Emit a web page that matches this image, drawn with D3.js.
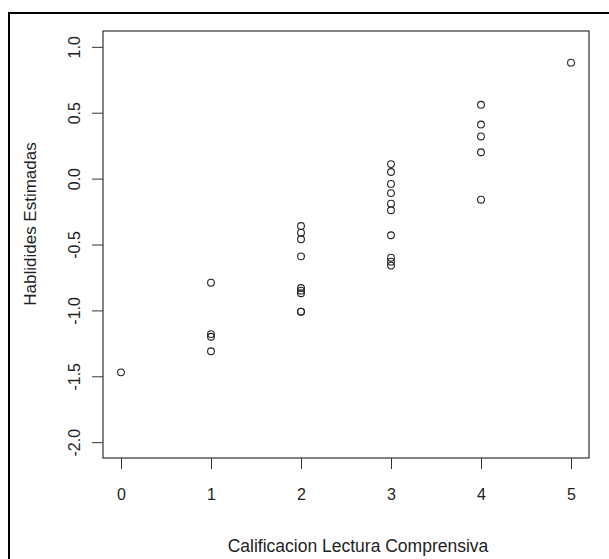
<!DOCTYPE html>
<html>
<head>
<meta charset="utf-8">
<script src="https://cdn.jsdelivr.net/npm/d3@7"></script>
<style>
  body { margin: 0; background: #fff; }
  text { font-family: "Liberation Sans", Arial, sans-serif; fill: #222; }
</style>
</head>
<body>
<svg id="chart" width="609" height="559"></svg>
<script>
// reading score (0..5) and the estimated ability for each student
var scores = [0, 1, 2, 3, 4, 5]
var score0 = [-1.47]
var score1 = [-0.79, -1.18, -1.20, -1.31]
var score2 = [-0.36, -0.41, -0.46, -0.59, -0.83, -0.85, -0.87, -1.01, -1.01]
var score3 = [0.11, 0.05, -0.04, -0.11, -0.19, -0.24, -0.43, -0.60, -0.63, -0.66]
var score4 = [0.56, 0.41, 0.32, 0.20, -0.16]
var score5 = [0.88]
var yTicks = [-2.0, -1.5, -1.0, -0.5, 0.0, 0.5, 1.0]
var xLabel = "Calificacion Lectura Comprensiva"
var yLabel = "Hablidides Estimadas"

var groups = [score0, score1, score2, score3, score4, score5]
var points = []
groups.forEach((g, i) => g.forEach(v => points.push({x: scores[i], y: v})))

var margin = {top: 31, right: 20, bottom: 101, left: 103}
var width = 609 - margin.left - margin.right
var height = 559 - margin.top - margin.bottom

var svg = d3.select("#chart")
svg.append("rect").attr("width", 609).attr("height", 559).attr("fill", "#fff")

// outer frame, runs off the right and bottom edges
svg.append("rect")
   .attr("x", 9).attr("y", 13)
   .attr("width", 640).attr("height", 600)
   .attr("fill", "none")
   .attr("stroke", "#000")
   .attr("stroke-width", 2)

var chart = svg.append("g")
   .attr("transform", "translate(" + margin.left + "," + margin.top + ")")

// R style 4% padding on both axes
var xScale = d3.scaleLinear().domain([-0.2, 5.2]).range([0, width])
var yScale = d3.scaleLinear().domain([-2.12, 1.12]).range([height, 0])

var xAxis = d3.axisBottom(xScale)
   .tickValues(scores)
   .tickSize(11)
   .tickPadding(20)
   .tickFormat(d => String(d))
var yAxis = d3.axisLeft(yScale)
   .tickValues(yTicks)
   .tickSize(11)
   .tickFormat(d => d.toFixed(1))

var gx = chart.append("g")
   .attr("transform", "translate(0," + height + ")")
   .call(xAxis)
gx.select(".domain").remove()
gx.selectAll("line").attr("stroke", "#333")
gx.selectAll("text")
   .attr("font-size", 16)
   .attr("font-family", "Liberation Sans, Arial, sans-serif")
   .attr("fill", "#222")

var gy = chart.append("g").call(yAxis)
gy.select(".domain").remove()
gy.selectAll("line").attr("stroke", "#333")
gy.selectAll("text")
   .attr("x", null).attr("dy", null)
   .attr("text-anchor", "middle")
   .attr("transform", "translate(-23,0) rotate(-90)")
   .attr("font-size", 16)
   .attr("font-family", "Liberation Sans, Arial, sans-serif")
   .attr("fill", "#222")

// plot box
chart.append("rect")
   .attr("width", width).attr("height", height)
   .attr("fill", "none")
   .attr("stroke", "#333")
   .attr("stroke-width", 1.2)

chart.selectAll("circle.pt")
   .data(points)
   .join("circle")
   .attr("class", "pt")
   .attr("cx", d => xScale(d.x))
   .attr("cy", d => yScale(d.y))
   .attr("r", 3.4)
   .attr("fill", "none")
   .attr("stroke", "#222")
   .attr("stroke-width", 1.1)

svg.append("text")
   .attr("x", 358)
   .attr("y", 552)
   .attr("text-anchor", "middle")
   .attr("font-size", 17.5)
   .text(xLabel)

svg.append("text")
   .attr("transform", "translate(36,224) rotate(-90)")
   .attr("text-anchor", "middle")
   .attr("font-size", 17)
   .text(yLabel)
</script>
</body>
</html>
